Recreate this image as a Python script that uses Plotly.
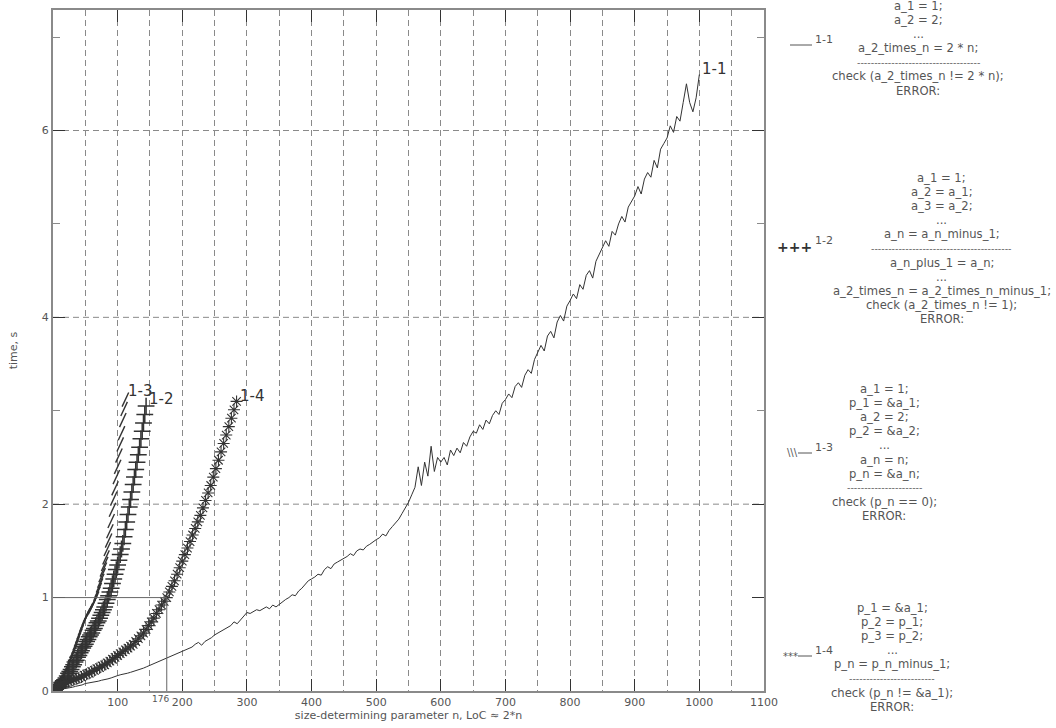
import plotly.graph_objects as go

# ---------------- data ----------------
n_11 = list(range(5, 1001, 5))
t_11 = [0.01, 0.015, 0.02, 0.03, 0.035, 0.04, 0.05, 0.055, 0.065, 0.08,
        0.085, 0.09, 0.10, 0.105, 0.115, 0.12, 0.13, 0.14, 0.155, 0.165,
        0.175, 0.18, 0.19, 0.2, 0.21, 0.22, 0.235, 0.245, 0.26, 0.275,
        0.29, 0.30, 0.315, 0.33, 0.35, 0.36, 0.375, 0.39, 0.405, 0.42,
        0.435, 0.45, 0.47, 0.5, 0.52, 0.49, 0.53, 0.55, 0.57, 0.6,
        0.62, 0.64, 0.66, 0.68, 0.70, 0.74, 0.72, 0.76, 0.80, 0.84,
        0.83, 0.85, 0.87, 0.86, 0.88, 0.9, 0.88, 0.92, 0.9, 0.93,
        0.96, 0.98, 1.0, 1.03, 1.02, 1.07, 1.1, 1.14, 1.18, 1.2,
        1.22, 1.25, 1.24, 1.3, 1.33, 1.31, 1.36, 1.38, 1.4, 1.42,
        1.44, 1.47, 1.45, 1.5, 1.52, 1.51, 1.55, 1.57, 1.6, 1.62,
        1.64, 1.68, 1.66, 1.72, 1.76, 1.8, 1.84, 1.9, 1.96, 2.02,
        2.1, 2.18, 2.4, 2.2, 2.45, 2.3, 2.62, 2.35, 2.5, 2.45,
        2.5, 2.42, 2.58, 2.52, 2.6, 2.55, 2.66, 2.62, 2.72, 2.78,
        2.76, 2.85, 2.8, 2.9, 2.86, 2.95, 3.0, 2.96, 3.08, 3.12,
        3.18, 3.14, 3.26, 3.3, 3.25, 3.38, 3.44, 3.4, 3.55, 3.62,
        3.7, 3.64, 3.8, 3.85, 3.78, 3.95, 4.02, 3.96, 4.12, 4.18,
        4.25, 4.2, 4.35, 4.3, 4.45, 4.5, 4.42, 4.6, 4.68, 4.74,
        4.82, 4.76, 4.92, 4.88, 5.0, 5.08, 5.02, 5.18, 5.24, 5.3,
        5.4, 5.32, 5.48, 5.55, 5.5, 5.68, 5.6, 5.8, 5.86, 5.92,
        6.05, 5.98, 6.15, 6.1, 6.3, 6.5, 6.3, 6.2, 6.35, 6.6]

n_12 = list(range(2, 145, 2))
t_12 = [0.01, 0.02, 0.03, 0.04, 0.05, 0.07, 0.09, 0.11, 0.12, 0.14,
        0.16, 0.19, 0.21, 0.23, 0.26, 0.28, 0.31, 0.33, 0.36, 0.38,
        0.41, 0.43, 0.46, 0.48, 0.5, 0.53, 0.55, 0.58, 0.6, 0.62,
        0.65, 0.67, 0.7, 0.73, 0.75, 0.78, 0.81, 0.84, 0.87, 0.9,
        0.94, 0.98, 1.02, 1.06, 1.1, 1.15, 1.2, 1.25, 1.3, 1.35,
        1.4, 1.46, 1.52, 1.58, 1.65, 1.73, 1.81, 1.89, 1.97, 2.05,
        2.13, 2.21, 2.29, 2.37, 2.45, 2.53, 2.61, 2.7, 2.78, 2.87,
        2.96, 3.05]

n_13 = list(range(2, 113, 2))
t_13 = [0.01, 0.03, 0.05, 0.07, 0.09, 0.11, 0.14, 0.17, 0.19, 0.22,
        0.26, 0.29, 0.32, 0.36, 0.39, 0.43, 0.47, 0.51, 0.55, 0.59,
        0.63, 0.67, 0.71, 0.74, 0.78, 0.81, 0.83, 0.86, 0.88, 0.9,
        0.93, 0.96, 0.99, 1.04, 1.08, 1.13, 1.18, 1.24, 1.3, 1.36,
        1.43, 1.52, 1.61, 1.71, 1.82, 1.94, 2.06, 2.17, 2.29, 2.4,
        2.52, 2.64, 2.76, 2.9, 3.02, 3.12]

n_14 = list(range(4, 285, 4))
t_14 = [0.03, 0.05, 0.07, 0.08, 0.09, 0.1, 0.11, 0.12, 0.13, 0.14,
        0.15, 0.17, 0.18, 0.19, 0.21, 0.22, 0.24, 0.25, 0.27, 0.28,
        0.3, 0.32, 0.34, 0.36, 0.38, 0.4, 0.42, 0.44, 0.46, 0.48,
        0.5, 0.53, 0.56, 0.59, 0.62, 0.66, 0.7, 0.74, 0.78, 0.83,
        0.87, 0.92, 0.96, 1.0, 1.06, 1.12, 1.18, 1.25, 1.32, 1.39,
        1.46, 1.53, 1.6, 1.67, 1.74, 1.81, 1.88, 1.96, 2.04, 2.12,
        2.2, 2.29, 2.38, 2.47, 2.56, 2.65, 2.74, 2.83, 2.92, 3.01, 3.1]

series_names = ["1-1", "1-2", "1-3", "1-4"]
x_tick_vals = [100, 200, 300, 400, 500, 600, 700, 800, 900, 1000, 1100]
x_tick_text = ["100", "200", "300", "400", "500", "600", "700", "800", "900", "1000", "1100"]
x_grid_vals = [50, 100, 150, 200, 250, 300, 350, 400, 450, 500, 550, 600,
               650, 700, 750, 800, 850, 900, 950, 1000, 1050]
y_major_vals = [0, 1, 2, 4, 6]
y_major_text = ["0", "1", "2", "4", "6"]
y_minor_vals = [3, 5, 7]
y_grid_vals = [2, 4, 6]
marker_n = 176
marker_t = 1

code_11 = ["a_1 = 1;", "a_2 = 2;", "...", "a_2_times_n = 2 * n;", "-" * 36,
           "check (a_2_times_n != 2 * n);", "ERROR:"]
code_12 = ["a_1 = 1;", "a_2 = a_1;", "a_3 = a_2;", "...", "a_n = a_n_minus_1;", "-" * 41,
           "a_n_plus_1 = a_n;", "...", "a_2_times_n = a_2_times_n_minus_1;",
           "check (a_2_times_n != 1);", "ERROR:"]
code_13 = ["a_1 = 1;", "p_1 = &a_1;", "a_2 = 2;", "p_2 = &a_2;", "...", "a_n = n;",
           "p_n = &a_n;", "-" * 22, "check (p_n == 0);", "ERROR:"]
code_14 = ["p_1 = &a_1;", "p_2 = p_1;", "p_3 = p_2;", "...", "p_n = p_n_minus_1;",
           "-" * 25, "check (p_n != &a_1);", "ERROR:"]

# ---------------- layout geometry (pixels) ----------------
W, H = 1056, 728
L, R, T, B = 53, 764, 10, 691
FONT = "DejaVu Sans"
INK = "#333333"
TXT = "#555555"
FRAME = "#8a8a8a"
GRID = "#8a8a8a"


def pxx(px):
    return (px - L) / (R - L)


def pxy(py):
    return (B - py) / (B - T)


fig = go.Figure()

fig.add_trace(go.Scatter(x=n_11, y=t_11, mode="lines", name=series_names[0],
                         line=dict(color=INK, width=1)))
fig.add_trace(go.Scatter(x=n_12, y=t_12, mode="markers", name=series_names[1],
                         marker=dict(symbol="cross-thin-open", size=12, color=INK,
                                     line=dict(color=INK, width=1.5))))
fig.add_trace(go.Scatter(x=n_13, y=t_13, mode="markers", name=series_names[2],
                         marker=dict(symbol="line-ne-open", size=11, color=INK, angle=-20,
                                     line=dict(color=INK, width=1.4))))
fig.add_trace(go.Scatter(x=n_14, y=t_14, mode="markers", name=series_names[3],
                         marker=dict(symbol="asterisk-open", size=10, color=INK,
                                     line=dict(color=INK, width=1.1))))

shapes = []
for gy in y_grid_vals:
    shapes.append(dict(type="line", xref="paper", yref="y", x0=0, x1=1, y0=gy, y1=gy,
                       line=dict(color=GRID, width=1, dash="6px,4px"), layer="below"))
# reference box at n=176, t=1
shapes.append(dict(type="line", xref="x", yref="y", x0=0, x1=marker_n, y0=marker_t, y1=marker_t,
                   line=dict(color="#666666", width=1)))
shapes.append(dict(type="line", xref="x", yref="y", x0=marker_n, x1=marker_n, y0=0, y1=marker_t,
                   line=dict(color="#666666", width=1)))

annotations = []
# curve end labels
label_shift = [5, 7, 9, 5]
for (xs, ys), name, sh in zip([(n_11, t_11), (n_12, t_12), (n_13, t_13), (n_14, t_14)],
                              series_names, label_shift):
    annotations.append(dict(x=xs[-1], y=ys[-1], xref="x", yref="y", text=name,
                            showarrow=False, xanchor="left", yanchor="middle",
                            xshift=1, yshift=sh, font=dict(family=FONT, size=15, color=INK)))
annotations.append(dict(x=marker_n, y=0, xref="x", yref="y", text=str(marker_n),
                        showarrow=False, xanchor="right", yanchor="top", xshift=4, yshift=-1,
                        font=dict(family=FONT, size=9, color=TXT)))

# code legend blocks
blocks = [(code_11, 918, 6), (code_12, 942, 178), (code_13, 884, 389), (code_14, 892, 608)]
for lines, cx, y0 in blocks:
    for i, s in enumerate(lines):
        is_sep = s.startswith("--")
        annotations.append(dict(x=pxx(cx), y=pxy(y0 + i * 14.1), xref="paper", yref="paper",
                                text=s, showarrow=False, xanchor="center", yanchor="middle",
                                font=dict(family=FONT, size=9.5 if is_sep else 11.6, color=TXT)))

# legend keys
key_rows = [(45, "line"), (247, "+++"), (453, "\\\\\\"), (656, "***")]
for (ky, sym), name in zip(key_rows, series_names):
    if sym == "line":
        shapes.append(dict(type="line", xref="paper", yref="paper", x0=pxx(790), x1=pxx(812),
                           y0=pxy(ky), y1=pxy(ky), line=dict(color="#555555", width=1)))
    elif sym == "+++":
        annotations.append(dict(x=pxx(794), y=pxy(ky), xref="paper", yref="paper",
                                text="<b>" + sym + "</b>",
                                showarrow=False, xanchor="center", yanchor="middle",
                                font=dict(family=FONT, size=14, color=INK)))
    else:
        annotations.append(dict(x=pxx(800), y=pxy(ky), xref="paper", yref="paper", text=sym,
                                showarrow=False, xanchor="right", yanchor="middle",
                                font=dict(family=FONT, size=10, color="#555555")))
        shapes.append(dict(type="line", xref="paper", yref="paper", x0=pxx(798), x1=pxx(812),
                           y0=pxy(ky), y1=pxy(ky), line=dict(color="#555555", width=1)))
    annotations.append(dict(x=pxx(813), y=pxy(ky - 6), xref="paper", yref="paper", text=name,
                            showarrow=False, xanchor="left", yanchor="middle",
                            font=dict(family=FONT, size=11, color=TXT)))

fig.update_layout(
    width=W, height=H,
    margin=dict(l=L, r=W - R, t=T, b=H - B, pad=0, autoexpand=False),
    paper_bgcolor="white", plot_bgcolor="white",
    showlegend=False,
    font=dict(family=FONT, size=11, color=TXT),
    shapes=shapes, annotations=annotations,
    xaxis=dict(range=[0, 1100], tickvals=x_tick_vals, ticktext=x_tick_text,
               ticks="inside", ticklen=12, tickcolor=INK, tickwidth=1,
               showline=True, linecolor=FRAME, linewidth=2, mirror="ticks",
               showgrid=True, gridcolor=GRID, gridwidth=1, griddash="6px,4px",
               minor=dict(tickvals=x_grid_vals, showgrid=True, gridcolor=GRID, gridwidth=1,
                          griddash="6px,4px", ticks=""),
               zeroline=False, automargin=False,
               tickfont=dict(family=FONT, size=11, color=TXT),
               title=dict(text="size-determining parameter n, LoC ≈ 2*n", standoff=2,
                          font=dict(family=FONT, size=11, color=TXT))),
    yaxis=dict(range=[0, 7.29], tickvals=y_major_vals, ticktext=y_major_text,
               ticks="inside", ticklen=12, tickcolor=INK, tickwidth=1,
               showline=True, linecolor=FRAME, linewidth=2, mirror="ticks",
               showgrid=False,
               minor=dict(tickvals=y_minor_vals, ticks="inside", ticklen=7, tickcolor=FRAME,
                          showgrid=False),
               zeroline=False, automargin=False,
               tickfont=dict(family=FONT, size=11, color=TXT),
               title=dict(text="time, s", standoff=22,
                          font=dict(family=FONT, size=11, color=TXT))),
)

fig.write_html("out.html", config={"displayModeBar": False},
               post_script="document.body.style.margin='0px';")
